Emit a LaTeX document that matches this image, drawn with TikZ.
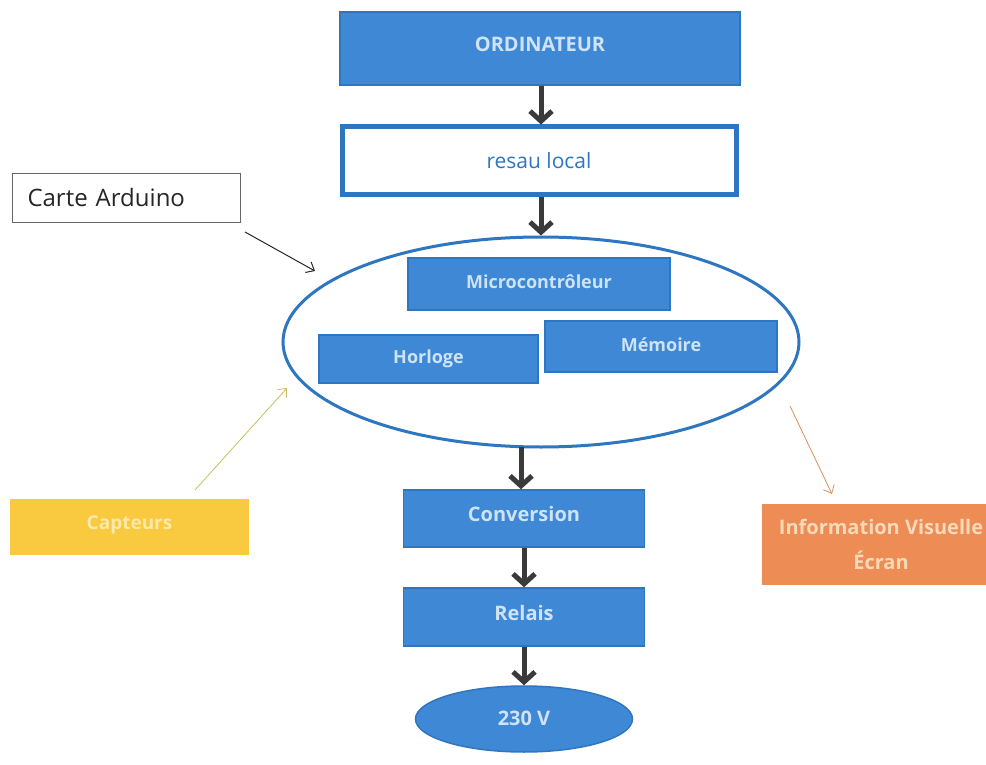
\documentclass[tikz,border=0pt]{standalone}
\usepackage{fontspec}
\setmainfont{Open Sans}
\usetikzlibrary{arrows.meta,shapes.geometric}
\definecolor{bfill}{HTML}{3E88D6}
\definecolor{bdraw}{HTML}{2F76C0}
\definecolor{btext}{HTML}{CFE3F6}
\definecolor{darr}{HTML}{3A3A3A}
\definecolor{yfill}{HTML}{F9C940}
\definecolor{ytext}{HTML}{FBE9A8}
\definecolor{ofill}{HTML}{EE8C55}
\definecolor{otext}{HTML}{F9D9B8}
\definecolor{oarr}{HTML}{D9905E}
\definecolor{yarr}{HTML}{C9C060}
\tikzset{
  x=1pt,y=-1pt,
  bluebox/.style={draw=bdraw,fill=bfill,line width=1.5pt,text=btext,font=\fontsize{20}{22}\selectfont\bfseries,inner sep=0pt},
  innerbox/.style={bluebox,font=\fontsize{18}{20}\selectfont\bfseries},
  flow/.style={draw=darr,line width=5pt,-{Straight Barb[length=10pt,width=22pt]}},
  thin/.style={line width=1pt,-{Straight Barb[length=7pt,width=12pt]}}
}
\begin{document}
\begin{tikzpicture}
\useasboundingbox (0,0) rectangle (986,765);
\fill[white] (0,0) rectangle (986,765);
% ORDINATEUR
\node[bluebox,minimum width=400pt,minimum height=73pt] (ord) at (540,48.5) {\raisebox{9pt}{ORDINATEUR}};
% resau local
\node[draw=bdraw,line width=5pt,fill=white,minimum width=394pt,minimum height=68pt,text=bdraw,font=\fontsize{21}{23}\selectfont] (res) at (539,161) {resau local};
% Carte Arduino
\node[draw=gray!80!black,line width=1pt,minimum width=228pt,minimum height=48pt,font=\fontsize{24}{26}\selectfont,text=black!85,anchor=west,align=left,text width=210pt] (carte) at (12,198) {\raisebox{2pt}{\hspace*{6pt}Carte Arduino}};
% Big ellipse
\node[draw=bdraw,line width=3pt,ellipse,minimum width=516pt,minimum height=210pt] (ard) at (541,342) {};
% inner boxes
\node[innerbox,minimum width=262pt,minimum height=52pt] (micro) at (539,284) {\raisebox{5pt}{Microcontrôleur}};
\node[innerbox,minimum width=219pt,minimum height=48pt] (horl) at (428.5,359) {\raisebox{2pt}{Horloge}};
\node[innerbox,minimum width=232pt,minimum height=51pt] (mem) at (661,346.5) {\raisebox{3pt}{Mémoire}};
% Conversion, Relais, 230 V
\node[bluebox,minimum width=241pt,minimum height=57pt] (conv) at (524,518.5) {\raisebox{10pt}{Conversion}};
\node[bluebox,minimum width=241pt,minimum height=58pt] (rel) at (524,617) {\raisebox{8pt}{Relais}};
\node[bluebox,ellipse,minimum width=217pt,minimum height=66pt] (v230) at (524,719) {\raisebox{1pt}{230 V}};
% Capteurs
\node[fill=yfill,minimum width=239pt,minimum height=56pt,text=ytext,font=\fontsize{19}{21}\selectfont\bfseries] (capt) at (129.5,527) {\raisebox{8pt}{Capteurs}};
% Information Visuelle
\node[fill=ofill,minimum width=238pt,minimum height=81pt,text=otext,font=\fontsize{20}{35}\selectfont\bfseries,align=center,inner sep=0pt] (info) at (881,544.5) {Information Visuelle\\Écran};
% arrows
\draw[flow] (ord.south) ++(1,0) coordinate (a1) -- (a1 |- res.north);
\draw[flow] (res.south) ++(2,0) coordinate (a2) -- (a2 |- ard.north);
\coordinate (a3) at (521,447);
\draw[flow] (a3) -- (a3 |- conv.north);
\draw[flow] (conv.south) -- (rel.north);
\draw[flow] (rel.south) -- (rel.south |- v230.north);
\coordinate (c1) at (245,232);
\coordinate (c2) at (315,271);
\draw[thin,black!85] (c1) -- (c2);
\coordinate (y1) at (195,490);
\coordinate (y2) at (287,388);
\draw[thin,yarr,line width=0.8pt] (y1) -- (y2);
\coordinate (o1) at (790,406);
\coordinate (o2) at (832,494);
\draw[thin,oarr,line width=0.8pt] (o1) -- (o2);
\end{tikzpicture}
\end{document}
